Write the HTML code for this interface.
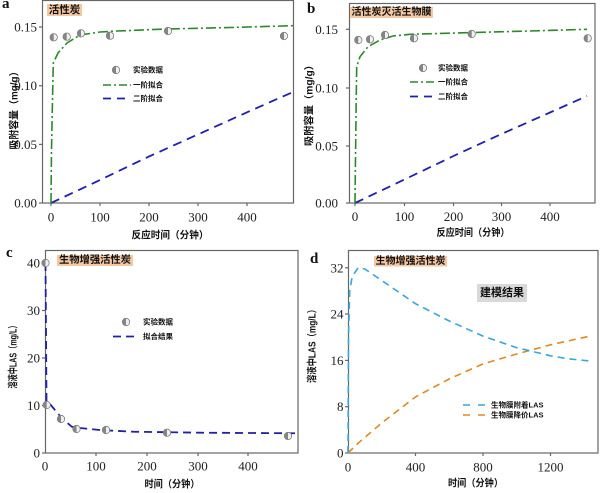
<!DOCTYPE html>
<html><head><meta charset="utf-8"><style>
html,body{margin:0;padding:0;background:#fff;}
svg{display:block;}
.tk{font-family:"Liberation Serif",serif;font-size:13px;fill:#222;}
.cj{font-family:"Liberation Sans","Noto Sans CJK SC",sans-serif;font-weight:bold;fill:#111;}
.lt{font-family:"Liberation Serif",serif;font-weight:bold;font-size:15px;fill:#111;}
</style></head><body>
<svg width="600" height="493" viewBox="0 0 600 493" xmlns="http://www.w3.org/2000/svg">
<defs>
<g id="mk"><circle r="3.7" fill="#f0f0f0" stroke="#7a7a7a" stroke-width="0.8"/><path d="M0,-3.7 A3.7,3.7 0 0,0 0,3.7 Z" fill="#858585"/></g>
</defs>
<rect width="600" height="493" fill="#fff"/>

<!-- ================= Panel a ================= -->
<text class="lt" x="2" y="8">a</text>
<rect x="42.5" y="0.5" width="251" height="202.5" fill="none" stroke="#666" stroke-width="1.2"/>
<g stroke="#666" stroke-width="1.2">
<line x1="39" y1="203" x2="42" y2="203"/><line x1="39" y1="144.4" x2="42" y2="144.4"/><line x1="39" y1="85.7" x2="42" y2="85.7"/><line x1="39" y1="27" x2="42" y2="27"/>
<line x1="51" y1="203" x2="51" y2="206"/><line x1="100" y1="203" x2="100" y2="206"/><line x1="149" y1="203" x2="149" y2="206"/><line x1="198" y1="203" x2="198" y2="206"/><line x1="247" y1="203" x2="247" y2="206"/>
</g>
<g class="tk" text-anchor="end" dominant-baseline="central">
<text x="37" y="203">0.00</text><text x="37" y="144.4">0.05</text><text x="37" y="85.7">0.10</text><text x="37" y="27">0.15</text>
</g>
<g class="tk" text-anchor="middle" dominant-baseline="central">
<text x="51" y="217">0</text><text x="100" y="217">100</text><text x="149" y="217">200</text><text x="198" y="217">300</text><text x="247" y="217">400</text>
</g>
<text class="cj" font-size="10" x="170" y="236" text-anchor="middle" dominant-baseline="central" textLength="77" lengthAdjust="spacingAndGlyphs">反应时间（分钟）</text>
<text class="cj" font-size="10" transform="translate(15,108) rotate(-90)" text-anchor="middle" dominant-baseline="central" textLength="83" lengthAdjust="spacingAndGlyphs">吸附容量（mg/g）</text>
<rect x="47" y="4" width="35" height="12" fill="#f6c8a2"/>
<text class="cj" font-size="10.5" x="64.5" y="10" text-anchor="middle" dominant-baseline="central">活性炭</text>
<polyline fill="none" stroke="#1f1fb0" stroke-width="1.8" stroke-dasharray="9 6" points="51,203 100,180 149,156.5 200,133.5 247,112.3 293,92"/>
<polyline fill="none" stroke="#2a8a2a" stroke-width="1.6" stroke-dasharray="10 3 2 3" points="51,203 51.5,150 52.5,100 53.3,63 58,53 67,43 80,35 100,32 117,31 167,29 230,27.5 293,25.7"/>
<use href="#mk" x="53.7" y="37.3"/><use href="#mk" x="66.7" y="36.7"/><use href="#mk" x="81" y="33.3"/><use href="#mk" x="110" y="35.7"/><use href="#mk" x="168" y="31"/><use href="#mk" x="284" y="36"/>
<!-- legend a -->
<use href="#mk" x="116" y="70"/>
<text class="cj" font-size="7.5" x="133" y="70" dominant-baseline="central">实验数据</text>
<line x1="103" y1="85" x2="131" y2="85" stroke="#2a8a2a" stroke-width="1.6" stroke-dasharray="8 3 2 3"/>
<text class="cj" font-size="7.5" x="133" y="85" dominant-baseline="central">一阶拟合</text>
<line x1="103" y1="98.5" x2="131" y2="98.5" stroke="#1f1fb0" stroke-width="1.8" stroke-dasharray="8 6"/>
<text class="cj" font-size="7.5" x="133" y="98.5" dominant-baseline="central">二阶拟合</text>

<!-- ================= Panel b ================= -->
<text class="lt" x="307" y="13">b</text>
<rect x="349.5" y="3.5" width="245.5" height="199.5" fill="none" stroke="#666" stroke-width="1.2"/>
<g stroke="#666" stroke-width="1.2">
<line x1="346" y1="203" x2="349" y2="203"/><line x1="346" y1="146" x2="349" y2="146"/><line x1="346" y1="88" x2="349" y2="88"/><line x1="346" y1="29.3" x2="349" y2="29.3"/>
<line x1="355" y1="203" x2="355" y2="206"/><line x1="404.5" y1="203" x2="404.5" y2="206"/><line x1="453.5" y1="203" x2="453.5" y2="206"/><line x1="501.5" y1="203" x2="501.5" y2="206"/><line x1="550" y1="203" x2="550" y2="206"/>
</g>
<g class="tk" text-anchor="end" dominant-baseline="central">
<text x="338" y="203">0.00</text><text x="338" y="146">0.05</text><text x="338" y="88">0.10</text><text x="338" y="29.3">0.15</text>
</g>
<g class="tk" text-anchor="middle" dominant-baseline="central">
<text x="355" y="216.5">0</text><text x="404.5" y="216.5">100</text><text x="453.5" y="216.5">200</text><text x="501.5" y="216.5">300</text><text x="550" y="216.5">400</text>
</g>
<text class="cj" font-size="10" x="473" y="233.3" text-anchor="middle" dominant-baseline="central" textLength="73" lengthAdjust="spacingAndGlyphs">反应时间（分钟）</text>
<text class="cj" font-size="10" transform="translate(310,103) rotate(-90)" text-anchor="middle" dominant-baseline="central" textLength="86" lengthAdjust="spacingAndGlyphs">吸附容量（mg/g）</text>
<rect x="350" y="7" width="83" height="11" fill="#f6c8a2"/>
<text class="cj" font-size="10" x="391.5" y="12.5" text-anchor="middle" dominant-baseline="central">活性炭灭活生物膜</text>
<polyline fill="none" stroke="#1f1fb0" stroke-width="1.8" stroke-dasharray="9 6" points="355,203 404.5,179.5 453.5,156 501.5,134 550,112.5 587,96"/>
<polyline fill="none" stroke="#2a8a2a" stroke-width="1.6" stroke-dasharray="10 3 2 3" points="355,203 355.6,150 356.2,100 356.7,66.7 360,56.7 368,46.7 380,40 393,36 410,34.3 466.7,32.7 530,31 587,29.3"/>
<use href="#mk" x="358.3" y="40"/><use href="#mk" x="370" y="39.3"/><use href="#mk" x="385" y="35"/><use href="#mk" x="414" y="38.3"/><use href="#mk" x="471.7" y="34"/><use href="#mk" x="587.7" y="38.3"/>
<!-- legend b -->
<use href="#mk" x="423" y="68"/>
<text class="cj" font-size="7.5" x="438" y="68" dominant-baseline="central">实验数据</text>
<line x1="410" y1="82" x2="437" y2="82" stroke="#2a8a2a" stroke-width="1.6" stroke-dasharray="8 3 2 3"/>
<text class="cj" font-size="7.5" x="438" y="82" dominant-baseline="central">一阶拟合</text>
<line x1="410" y1="96.5" x2="437" y2="96.5" stroke="#1f1fb0" stroke-width="1.8" stroke-dasharray="8 6"/>
<text class="cj" font-size="7.5" x="438" y="96.5" dominant-baseline="central">二阶拟合</text>

<!-- ================= Panel c ================= -->
<text class="lt" x="6" y="257">c</text>
<rect x="45.5" y="250.5" width="252.5" height="202.5" fill="none" stroke="#666" stroke-width="1.2"/>
<g stroke="#666" stroke-width="1.2">
<line x1="42" y1="453" x2="45" y2="453"/><line x1="42" y1="405.5" x2="45" y2="405.5"/><line x1="42" y1="358" x2="45" y2="358"/><line x1="42" y1="310.5" x2="45" y2="310.5"/><line x1="42" y1="263" x2="45" y2="263"/>
<line x1="96" y1="453" x2="96" y2="456"/><line x1="147" y1="453" x2="147" y2="456"/><line x1="198" y1="453" x2="198" y2="456"/><line x1="248" y1="453" x2="248" y2="456"/>
</g>
<g class="tk" text-anchor="end" dominant-baseline="central">
<text x="40" y="453">0</text><text x="40" y="405.5">10</text><text x="40" y="358">20</text><text x="40" y="310.5">30</text><text x="40" y="263">40</text>
</g>
<g class="tk" text-anchor="middle" dominant-baseline="central">
<text x="45" y="466">0</text><text x="96" y="466">100</text><text x="147" y="466">200</text><text x="198" y="466">300</text><text x="248" y="466">400</text>
</g>
<text class="cj" font-size="10" x="172" y="485" text-anchor="middle" dominant-baseline="central" textLength="55" lengthAdjust="spacingAndGlyphs">时间（分钟）</text>
<text class="cj" font-size="10" transform="translate(14,355) rotate(-90)" text-anchor="middle" dominant-baseline="central" textLength="67" lengthAdjust="spacingAndGlyphs">溶液中LAS（mg/L）</text>
<rect x="57" y="255" width="76" height="11" fill="#f6c8a2"/>
<text class="cj" font-size="10.3" x="95" y="260.5" text-anchor="middle" dominant-baseline="central">生物增强活性炭</text>
<polyline fill="none" stroke="#2020a8" stroke-width="1.8" stroke-dasharray="8 5" points="45.5,263 46,330 46.5,401.7 50,404 53.3,408 61.7,418 71.7,426.7 80,428 100,430 133,431.7 200,432.7 298,433.3"/>
<use href="#mk" x="45.5" y="263"/><use href="#mk" x="46.7" y="405"/><use href="#mk" x="61" y="419"/><use href="#mk" x="76.5" y="429"/><use href="#mk" x="106" y="430"/><use href="#mk" x="167" y="432.7"/><use href="#mk" x="288" y="436"/>
<!-- legend c -->
<use href="#mk" x="126" y="322"/>
<text class="cj" font-size="7.5" x="143" y="322" dominant-baseline="central">实验数据</text>
<line x1="113" y1="336.5" x2="136" y2="336.5" stroke="#2020a8" stroke-width="1.8" stroke-dasharray="8 5"/>
<text class="cj" font-size="7.5" x="143" y="336.5" dominant-baseline="central">拟合结果</text>

<!-- ================= Panel d ================= -->
<text class="lt" x="310" y="263">d</text>
<rect x="348.5" y="250.5" width="249.5" height="202.5" fill="none" stroke="#666" stroke-width="1.2"/>
<g stroke="#666" stroke-width="1.2">
<line x1="345" y1="453" x2="348" y2="453"/><line x1="345" y1="406.7" x2="348" y2="406.7"/><line x1="345" y1="360.4" x2="348" y2="360.4"/><line x1="345" y1="314" x2="348" y2="314"/><line x1="345" y1="267.8" x2="348" y2="267.8"/>
<line x1="415.5" y1="453" x2="415.5" y2="456"/><line x1="483" y1="453" x2="483" y2="456"/><line x1="550.5" y1="453" x2="550.5" y2="456"/>
</g>
<g class="tk" text-anchor="end" dominant-baseline="central">
<text x="343.5" y="453">0</text><text x="343.5" y="406.7">8</text><text x="343.5" y="360.4">16</text><text x="343.5" y="314">24</text><text x="343.5" y="267.8">32</text>
</g>
<g class="tk" text-anchor="middle" dominant-baseline="central">
<text x="348" y="467">0</text><text x="415.5" y="467">400</text><text x="483" y="467">800</text><text x="550.5" y="467">1200</text>
</g>
<text class="cj" font-size="10" x="475.5" y="484" text-anchor="middle" dominant-baseline="central" textLength="55" lengthAdjust="spacingAndGlyphs">时间（分钟）</text>
<text class="cj" font-size="10" transform="translate(313,344) rotate(-90)" text-anchor="middle" dominant-baseline="central" textLength="78" lengthAdjust="spacingAndGlyphs">溶液中LAS（mg/L）</text>
<rect x="374" y="256" width="73" height="10.5" fill="#f6c8a2"/>
<text class="cj" font-size="10" x="410.5" y="261.3" text-anchor="middle" dominant-baseline="central">生物增强活性炭</text>
<rect x="477" y="284" width="50" height="18" fill="#d9d9d9"/>
<text class="cj" font-size="11" x="502" y="293" text-anchor="middle" dominant-baseline="central">建模结果</text>
<polyline fill="none" stroke="#e08a1e" stroke-width="1.6" stroke-dasharray="7 5" points="348,453 358.1,443.2 381.8,422.9 415.5,396.9 449.3,378.9 483,363.9 516.8,354 550.5,344.8 590,336.1"/>
<polyline fill="none" stroke="#36a6dc" stroke-width="1.6" stroke-dasharray="7 5" points="348,453 348.5,337.3 349.7,291 352.2,276.5 358.1,267.8 364.9,269 381.8,280.5 415.5,303.7 449.3,321 483,336.1 516.8,347.7 533.6,351.7 550.5,355.8 567.4,358.7 590,361"/>
<!-- legend d -->
<line x1="463" y1="405" x2="486" y2="405" stroke="#36a6dc" stroke-width="1.6" stroke-dasharray="7 8"/>
<text class="cj" font-size="7.5" x="491" y="405" dominant-baseline="central">生物膜附着LAS</text>
<line x1="463" y1="415" x2="486" y2="415" stroke="#e08a1e" stroke-width="1.6" stroke-dasharray="7 8"/>
<text class="cj" font-size="7.5" x="491" y="415" dominant-baseline="central">生物膜降价LAS</text>
</svg>
</body></html>
